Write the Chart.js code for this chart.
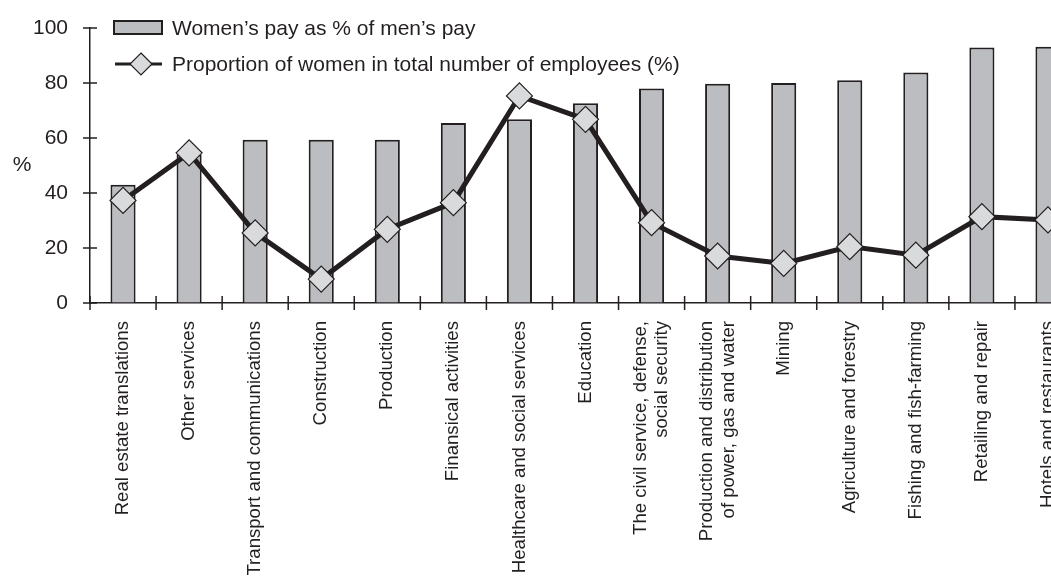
<!DOCTYPE html>
<html>
<head>
<meta charset="utf-8">
<script src="https://cdn.jsdelivr.net/npm/chart.js@4.4.0/dist/chart.umd.min.js"></script>
<style>
  html, body { margin: 0; padding: 0; background: #fff; overflow: hidden; }
  #wrap { position: relative; width: 1100px; height: 577px; }
  #legend { position: absolute; left: 113px; top: 10px; font: 21px "Liberation Sans", Arial, sans-serif; color: #231f20; }
  #legend .item { display: flex; align-items: center; height: 36px; white-space: nowrap; }
  #legend svg { margin-right: 9px; }
</style>
</head>
<body>
<div id="wrap">
  <canvas id="chart"></canvas>
  <div id="legend"></div>
</div>
<script>
const sectors = [
  'Real estate translations',
  'Other services',
  'Transport and communications',
  'Construction',
  'Production',
  'Finansical activities',
  'Healthcare and social services',
  'Education',
  ['The civil service, defense,', 'social security'],
  ['Production and distribution', 'of power, gas and water'],
  'Mining',
  'Agriculture and forestry',
  'Fishing and fish-farming',
  'Retailing and repair',
  'Hotels and restaurants'
];
const payRatio   = [43, 54, 59.4, 59.4, 59.4, 65.5, 66.8, 72.6, 78, 79.7, 80, 81, 83.8, 92.9, 93.2];
const womenShare = [37.3, 54.6, 25.5, 8.7, 26.8, 36.5, 75.3, 66.8, 29.2, 17.1, 14.4, 20.5, 17.4, 31.4, 30.2];
const yTicks = [0, 20, 40, 60, 80, 100];

const FONT = '"Liberation Sans", Arial, sans-serif';
const INK = '#231f20';
const BAR_FILL = '#bcbdc1';
const MARKER_FILL = '#d9dadb';
const LABEL_SIZE = 18.6;
const LABEL_LINE = 21.6;

// tick marks crossing both axes, the unrotated "%" title and
// vertical category labels with multi-line labels centred on the tick
const axisDecor = {
  id: 'axisDecor',
  afterDraw(chart) {
    const { ctx, scales: { x, y } } = chart;
    const len = 7;
    ctx.save();
    ctx.strokeStyle = INK;
    ctx.lineWidth = 1.5;
    ctx.beginPath();
    y.ticks.forEach(t => {
      const py = y.getPixelForValue(t.value);
      ctx.moveTo(x.left - len, py);
      ctx.lineTo(x.left + len, py);
    });
    const step = x.getPixelForValue(1) - x.getPixelForValue(0);
    for (let i = 0; i <= sectors.length; i++) {
      const px = x.getPixelForValue(i) - step / 2;
      ctx.moveTo(px, y.bottom - len);
      ctx.lineTo(px, y.bottom + len);
    }
    ctx.stroke();

    ctx.fillStyle = INK;
    ctx.font = '21px ' + FONT;
    ctx.textAlign = 'center';
    ctx.textBaseline = 'middle';
    ctx.fillText('%', 22, y.getPixelForValue(50));

    ctx.font = LABEL_SIZE + 'px ' + FONT;
    ctx.textAlign = 'right';
    sectors.forEach((label, i) => {
      const lines = [].concat(label);
      ctx.save();
      ctx.translate(x.getPixelForTick(i), y.bottom + 18);
      ctx.rotate(-Math.PI / 2);
      lines.forEach((line, j) => {
        ctx.fillText(line, 0, (j - (lines.length - 1) / 2) * LABEL_LINE);
      });
      ctx.restore();
    });
    ctx.restore();
  }
};

const chart = new Chart(document.getElementById('chart'), {
  type: 'bar',
  data: {
    labels: sectors,
    datasets: [
      {
        type: 'line',
        label: 'Proportion of women in total number of employees (%)',
        data: womenShare,
        order: 1,
        borderColor: INK,
        borderWidth: 5,
        tension: 0,
        pointStyle: 'rectRot',
        pointRadius: 13,
        pointBackgroundColor: MARKER_FILL,
        pointBorderColor: INK,
        pointBorderWidth: 1.2
      },
      {
        type: 'bar',
        label: 'Women\u2019s pay as % of men\u2019s pay',
        data: payRatio,
        order: 2,
        backgroundColor: BAR_FILL,
        borderColor: INK,
        borderWidth: 2,
        barPercentage: 0.38,
        categoryPercentage: 1
      }
    ]
  },
  options: {
    responsive: true,
    maintainAspectRatio: false,
    animation: false,
    layout: { autoPadding: false, padding: { top: 28, right: 19, bottom: 0, left: 0 } },
    plugins: { legend: { display: false }, tooltip: { enabled: false } },
    scales: {
      x: {
        grid: { drawOnChartArea: false, drawTicks: false },
        border: { color: INK, width: 1.5 },
        ticks: { display: false, autoSkip: false },
        afterFit: s => { s.height = 274; }
      },
      y: {
        min: 0, max: 100,
        // invisible tick length spaces the labels off the axis
        grid: { drawOnChartArea: false, drawTicks: true, tickLength: 22, tickColor: 'transparent' },
        border: { color: INK, width: 1.5 },
        ticks: { padding: 0, color: INK, font: { family: FONT, size: 21 } },
        afterBuildTicks: s => { s.ticks = yTicks.map(v => ({ value: v })); },
        afterFit: s => { s.width = 90; }
      }
    }
  },
  plugins: [axisDecor]
});

// legend: bar swatch first, then line with diamond
const legendEl = document.getElementById('legend');
const swatches = {
  bar: `<svg width="50" height="16"><rect x="1" y="1" width="48" height="13" fill="${BAR_FILL}" stroke="${INK}" stroke-width="2"/></svg>`,
  line: `<svg width="50" height="26"><line x1="2" y1="13" x2="49" y2="13" stroke="${INK}" stroke-width="3"/>` +
        `<polygon points="28,2 39,13 28,24 17,13" fill="${MARKER_FILL}" stroke="${INK}" stroke-width="1.2"/></svg>`
};
[1, 0].forEach(i => {
  const ds = chart.data.datasets[i];
  const row = document.createElement('div');
  row.className = 'item';
  row.innerHTML = swatches[ds.type] + '<span></span>';
  row.querySelector('span').textContent = ds.label;
  legendEl.appendChild(row);
});
</script>
</body>
</html>
